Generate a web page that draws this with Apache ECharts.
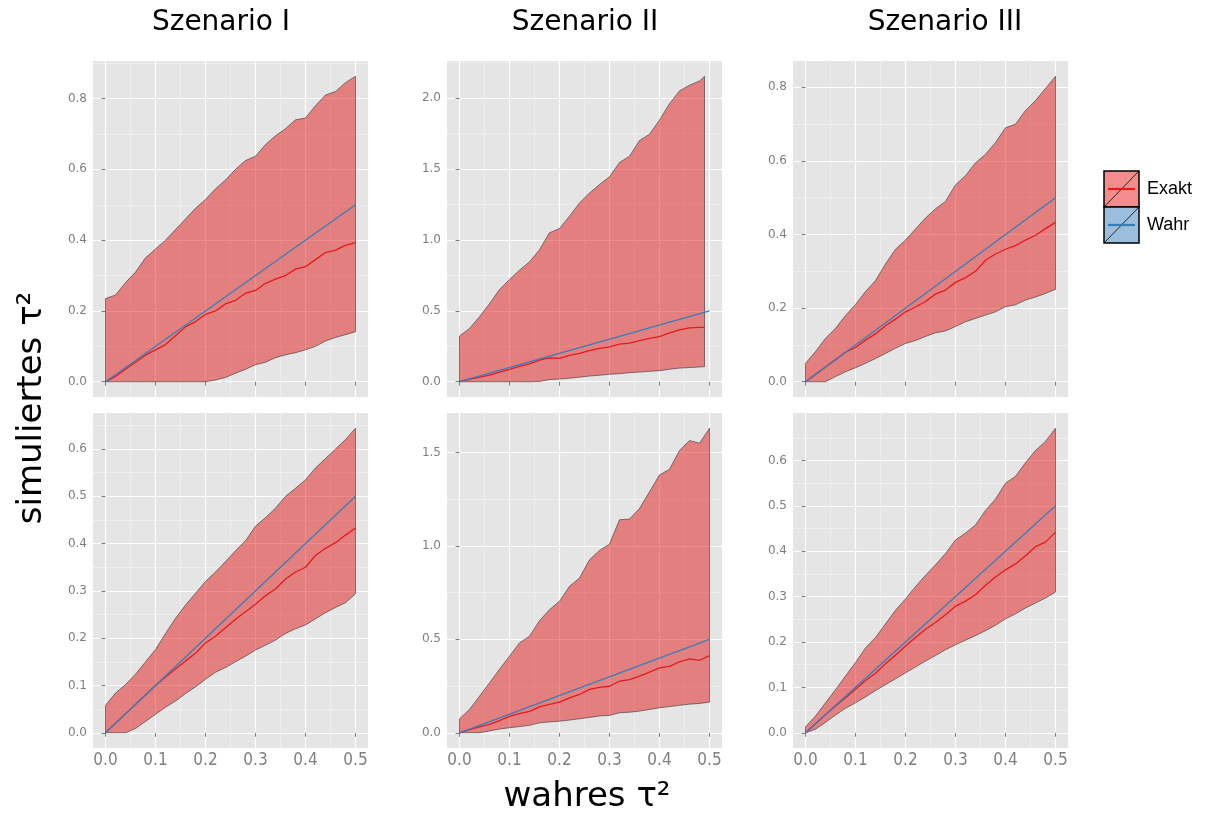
<!DOCTYPE html>
<html lang="de">
<head>
    <meta charset="UTF-8">
    <script type="text/javascript" src="https://cdn.jsdelivr.net/npm/echarts@6/dist/echarts.min.js"></script>
    <style>
        html, body { margin: 0; padding: 0; background: #fff; }
        #main { width: 1210px; height: 814px; }
    </style>
</head>
<body>
<div id="main"></div>
<script type="text/javascript">
    // wahres tau^2 (x) - panel 2 top row stops at 0.49
    var xs  = [0,0.02,0.04,0.06,0.08,0.1,0.12,0.14,0.16,0.18,0.2,0.22,0.24,0.26,0.28,0.3,0.32,0.34,0.36,0.38,0.4,0.42,0.44,0.46,0.48,0.5];
    var xs2 = [0,0.02,0.04,0.06,0.08,0.1,0.12,0.14,0.16,0.18,0.2,0.22,0.24,0.26,0.28,0.3,0.32,0.34,0.36,0.38,0.4,0.42,0.44,0.46,0.48,0.49];

    // obere Reihe
    var lo1 = [0,0,0,0,0,0,0,0,0,0,0,0.005,0.012,0.024,0.035,0.048,0.055,0.068,0.076,0.082,0.09,0.1,0.115,0.125,0.133,0.141];
    var hi1 = [0.235,0.245,0.28,0.31,0.35,0.375,0.40,0.43,0.46,0.49,0.515,0.545,0.57,0.60,0.625,0.637,0.67,0.695,0.715,0.74,0.745,0.78,0.81,0.82,0.845,0.863];
    var ex1 = [0,0.015,0.035,0.055,0.075,0.09,0.105,0.13,0.155,0.17,0.19,0.2,0.22,0.23,0.25,0.258,0.278,0.29,0.30,0.318,0.325,0.345,0.365,0.372,0.385,0.393];

    var lo2 = [0,0,0,0,0,0,0,0,0.002,0.015,0.019,0.025,0.032,0.04,0.046,0.052,0.057,0.064,0.068,0.073,0.078,0.088,0.096,0.1,0.104,0.106];
    var hi2 = [0.322,0.376,0.458,0.55,0.65,0.72,0.786,0.845,0.93,1.05,1.08,1.167,1.26,1.33,1.39,1.445,1.545,1.59,1.70,1.745,1.845,1.96,2.05,2.09,2.12,2.153];
    var ex2 = [0,0.017,0.033,0.047,0.068,0.087,0.108,0.126,0.152,0.168,0.165,0.185,0.2,0.22,0.235,0.245,0.265,0.272,0.29,0.305,0.318,0.345,0.365,0.38,0.383,0.383];

    var lo3 = [0,0,0,0.014,0.027,0.038,0.05,0.063,0.077,0.091,0.104,0.112,0.123,0.133,0.138,0.15,0.163,0.172,0.181,0.19,0.204,0.209,0.222,0.23,0.24,0.251];
    var hi3 = [0.05,0.082,0.118,0.145,0.18,0.21,0.245,0.275,0.32,0.36,0.385,0.415,0.445,0.47,0.49,0.535,0.56,0.595,0.618,0.65,0.69,0.70,0.737,0.764,0.797,0.83];
    var ex3 = [0,0.02,0.04,0.06,0.08,0.093,0.113,0.13,0.152,0.17,0.19,0.203,0.218,0.238,0.249,0.27,0.283,0.3,0.33,0.347,0.36,0.37,0.385,0.398,0.416,0.433];

    // untere Reihe
    var lo4 = [0,0,0,0.009,0.024,0.039,0.054,0.067,0.083,0.097,0.113,0.128,0.138,0.15,0.162,0.175,0.185,0.196,0.21,0.22,0.228,0.241,0.254,0.265,0.275,0.294];
    var hi4 = [0.058,0.084,0.102,0.124,0.15,0.176,0.21,0.242,0.27,0.295,0.32,0.34,0.362,0.385,0.406,0.437,0.455,0.475,0.50,0.517,0.535,0.56,0.58,0.60,0.62,0.644];
    var ex4 = [0,0.02,0.04,0.06,0.08,0.1,0.118,0.135,0.152,0.168,0.19,0.204,0.222,0.24,0.256,0.272,0.29,0.304,0.325,0.34,0.35,0.375,0.39,0.402,0.418,0.433];

    var lo5 = [0,0,0,0.01,0.02,0.027,0.033,0.04,0.053,0.058,0.062,0.068,0.075,0.082,0.09,0.093,0.107,0.11,0.116,0.125,0.134,0.14,0.147,0.153,0.157,0.164];
    var hi5 = [0.075,0.125,0.196,0.267,0.34,0.41,0.481,0.517,0.60,0.659,0.704,0.784,0.828,0.926,0.976,1.01,1.14,1.144,1.2,1.29,1.38,1.41,1.511,1.564,1.55,1.63];
    var ex5 = [0,0.017,0.032,0.045,0.065,0.088,0.103,0.115,0.139,0.152,0.164,0.187,0.205,0.232,0.243,0.249,0.276,0.285,0.303,0.325,0.347,0.355,0.38,0.396,0.388,0.413];

    var lo6 = [0,0.008,0.023,0.039,0.054,0.066,0.079,0.093,0.106,0.119,0.132,0.145,0.158,0.17,0.183,0.194,0.204,0.214,0.225,0.237,0.251,0.262,0.275,0.286,0.297,0.31];
    var hi6 = [0.013,0.037,0.066,0.095,0.125,0.155,0.187,0.21,0.24,0.27,0.295,0.322,0.347,0.37,0.395,0.425,0.44,0.458,0.49,0.515,0.55,0.565,0.595,0.622,0.642,0.671];
    var ex6 = [0,0.02,0.04,0.059,0.077,0.096,0.115,0.131,0.152,0.171,0.191,0.21,0.228,0.243,0.26,0.279,0.29,0.304,0.325,0.343,0.359,0.372,0.39,0.41,0.42,0.442];

    // wahre Linie
    var wahrX = [0, 0.5];
    var wahrY = [0, 0.5];

    var titles = ['Szenario I', 'Szenario II', 'Szenario III'];
    var xTicks = [0, 0.1, 0.2, 0.3, 0.4, 0.5];
    var xMinor = [0.05, 0.15, 0.25, 0.35, 0.45];
    var yTicks1 = [0, 0.2, 0.4, 0.6, 0.8];
    var yTicks2 = [0, 0.5, 1.0, 1.5, 2.0];
    var yTicks3 = [0, 0.2, 0.4, 0.6, 0.8];
    var yTicks4 = [0, 0.1, 0.2, 0.3, 0.4, 0.5, 0.6];
    var yTicks5 = [0, 0.5, 1.0, 1.5];
    var yTicks6 = [0, 0.1, 0.2, 0.3, 0.4, 0.5, 0.6];

    var panels = [
        {x: xs,  lo: lo1, hi: hi1, ex: ex1, yTicks: yTicks1, left: 93,  top: 61,  height: 336},
        {x: xs2, lo: lo2, hi: hi2, ex: ex2, yTicks: yTicks2, left: 447, top: 61,  height: 336},
        {x: xs,  lo: lo3, hi: hi3, ex: ex3, yTicks: yTicks3, left: 793, top: 61,  height: 336},
        {x: xs,  lo: lo4, hi: hi4, ex: ex4, yTicks: yTicks4, left: 93,  top: 413, height: 335},
        {x: xs,  lo: lo5, hi: hi5, ex: ex5, yTicks: yTicks5, left: 447, top: 413, height: 335},
        {x: xs,  lo: lo6, hi: hi6, ex: ex6, yTicks: yTicks6, left: 793, top: 413, height: 335}
    ];

    var grey = '#7F7F7F';
    var fmt = function (v) { return v.toFixed(1); };

    // minor breaks like ggplot: midpoints, also one step past the ends
    function minorOf(ticks, min, max) {
        var step = ticks[1] - ticks[0];
        var res = [];
        for (var k = -1; k < ticks.length; k++) {
            var m = ticks[0] + (k + 0.5) * step;
            if (m > min && m < max) res.push(+m.toFixed(4));
        }
        return res;
    }

    function ribbon(p) {
        return function (params, api) {
            if (params.dataIndex !== 0) return null;
            var pts = [];
            for (var k = 0; k < p.x.length; k++) pts.push(api.coord([p.x[k], p.hi[k]]));
            for (var k2 = p.x.length - 1; k2 >= 0; k2--) pts.push(api.coord([p.x[k2], p.lo[k2]]));
            return {
                type: 'polygon',
                shape: {points: pts},
                style: {fill: 'rgba(228,26,28,0.5)', stroke: '#333333', lineWidth: 0.6}
            };
        };
    }

    var grids = [], xAxes = [], yAxes = [], series = [];
    panels.forEach(function (p, i) {
        var top = Math.max(Math.max.apply(null, p.hi), 0.5);
        var pad = top * 0.05;
        var ymin = -pad, ymax = top + pad;
        grids.push({left: p.left, top: p.top, width: 275, height: p.height,
            show: true, backgroundColor: '#E5E5E5', borderWidth: 0});

        // minor axes first so that the major grid lies over them
        xAxes.push({gridIndex: i, type: 'value', min: -0.025, max: 0.525, position: 'top',
            axisLine: {show: false}, axisTick: {show: false, customValues: xMinor},
            axisLabel: {show: false, customValues: xMinor},
            splitLine: {show: true, lineStyle: {color: '#F2F2F2', width: 0.7}}});
        xAxes.push({gridIndex: i, type: 'value', min: -0.025, max: 0.525, position: 'bottom',
            axisLine: {show: false},
            axisTick: {show: true, customValues: xTicks, length: 4, lineStyle: {color: grey, width: 1}},
            axisLabel: {show: i >= 3, customValues: xTicks, formatter: fmt, margin: 4,
                color: grey, fontSize: 17, fontFamily: "'Liberation Sans Narrow', 'DejaVu Sans Condensed', sans-serif"},
            splitLine: {show: true, lineStyle: {color: '#FFFFFF', width: 1.2}}});

        var yMinor = minorOf(p.yTicks, ymin, ymax);
        yAxes.push({gridIndex: i, type: 'value', min: ymin, max: ymax, position: 'right',
            axisLine: {show: false}, axisTick: {show: false, customValues: yMinor},
            axisLabel: {show: false, customValues: yMinor},
            splitLine: {show: true, lineStyle: {color: '#F2F2F2', width: 0.7}}});
        yAxes.push({gridIndex: i, type: 'value', min: ymin, max: ymax, position: 'left',
            axisLine: {show: false},
            axisTick: {show: true, customValues: p.yTicks, length: 4, lineStyle: {color: grey, width: 1}},
            axisLabel: {show: true, customValues: p.yTicks, formatter: fmt, margin: 6,
                color: grey, fontSize: 12, fontFamily: "'DejaVu Sans', sans-serif"},
            splitLine: {show: true, lineStyle: {color: '#FFFFFF', width: 1.2}}});

        var ax = 2 * i + 1;
        series.push({
            type: 'custom', xAxisIndex: ax, yAxisIndex: ax, silent: true, z: 2,
            renderItem: ribbon(p),
            data: p.x.map(function (x, k) { return [x, p.lo[k], p.hi[k]]; })
        });
        series.push({
            name: 'Exakt', type: 'line', xAxisIndex: ax, yAxisIndex: ax, z: 3,
            showSymbol: false, silent: true,
            lineStyle: {color: '#E41A1C', width: 1.3},
            data: p.x.map(function (x, k) { return [x, p.ex[k]]; })
        });
        series.push({
            name: 'Wahr', type: 'line', xAxisIndex: ax, yAxisIndex: ax, z: 4,
            showSymbol: false, silent: true,
            lineStyle: {color: '#377EB8', width: 1.3},
            data: wahrX.map(function (x, k) { return [x, wahrY[k]]; })
        });
    });

    var titleX = [221, 585, 945];
    var graphics = [];
    titles.forEach(function (t, i) {
        graphics.push({type: 'text', x: titleX[i], y: 23,
            style: {text: t, fill: '#000', font: "28px 'DejaVu Sans'",
                textAlign: 'center', textVerticalAlign: 'middle', align: 'center', verticalAlign: 'middle'}});
    });
    graphics.push({type: 'text', x: 587, y: 797,
        style: {text: 'wahres τ²', fill: '#000', font: "34px 'DejaVu Sans'",
            textAlign: 'center', textVerticalAlign: 'middle', align: 'center', verticalAlign: 'middle'}});
    graphics.push({type: 'text', x: 32, y: 408, rotation: Math.PI / 2,
        style: {text: 'simuliertes τ²', fill: '#000', font: "34px 'DejaVu Sans'",
            textAlign: 'center', textVerticalAlign: 'middle', align: 'center', verticalAlign: 'middle'}});

    // Legende
    var legendItems = [
        {name: 'Exakt', fill: '#F28C8D', line: '#E41A1C', y: 171},
        {name: 'Wahr',  fill: '#9BBEDC', line: '#377EB8', y: 207}
    ];
    legendItems.forEach(function (it) {
        graphics.push({type: 'rect', shape: {x: 1104, y: it.y, width: 35, height: 36},
            style: {fill: it.fill, stroke: '#000', lineWidth: 1.5}});
        graphics.push({type: 'line', shape: {x1: 1104, y1: it.y + 36, x2: 1139, y2: it.y},
            style: {stroke: '#000', lineWidth: 0.8}});
        graphics.push({type: 'line', shape: {x1: 1108, y1: it.y + 18, x2: 1135, y2: it.y + 18},
            style: {stroke: it.line, lineWidth: 2.2}});
        graphics.push({type: 'text', x: 1147, y: it.y + 18,
            style: {text: it.name, fill: '#000', font: "18px 'Liberation Sans'",
                textAlign: 'left', textVerticalAlign: 'middle', align: 'left', verticalAlign: 'middle'}});
    });

    var myChart = echarts.init(document.getElementById('main'));
    myChart.setOption({
        animation: false,
        backgroundColor: '#FFFFFF',
        grid: grids,
        xAxis: xAxes,
        yAxis: yAxes,
        series: series,
        graphic: graphics
    });
</script>
</body>
</html>
